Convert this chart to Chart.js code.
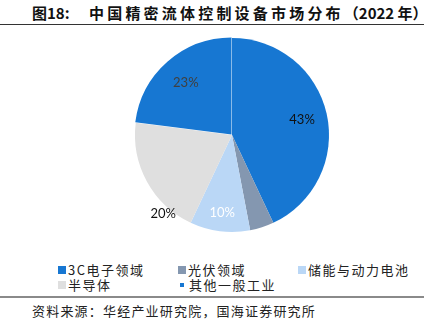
<!DOCTYPE html>
<html>
<head>
<meta charset="utf-8">
<script src="https://cdn.jsdelivr.net/npm/chart.js@4.4.0/dist/chart.umd.min.js"></script>
<style>
  body { margin: 0; background: #fff; }
  #wrap { position: relative; width: 427px; height: 330px; overflow: hidden; font-family: "Noto Sans CJK SC", sans-serif; }
  #title { position: absolute; top: 3px; left: 32px; font-size: 15px; font-weight: bold; color: #111; white-space: nowrap; line-height: 20px; }
  #title .num { display: inline-block; width: 57px; }
  #title .main { letter-spacing: 3.2px; }
  #title .yr { letter-spacing: 0; }
  #topline { position: absolute; top: 24px; left: 0; width: 424px; height: 1px; background: #333; }
  #pie { position: absolute; top: 0; left: 0; }
  #legend { position: absolute; top: 262px; left: 58px; display: grid; grid-template-columns: 120px 120px 120px; row-gap: 0; font-size: 13px; color: #222; letter-spacing: 1.5px; line-height: 15px; }
  #legend div { display: flex; align-items: center; white-space: nowrap; }
  #legend span.box { display: inline-block; width: 8px; height: 8px; margin-right: 2px; }
  #legend span.box.small { width: 4px; height: 4px; margin: 0 5px 0 2px; }
  #botline { position: absolute; top: 296px; left: 0; width: 424px; height: 2px; background: #8a8a8a; }
  #source { position: absolute; top: 302px; left: 32px; font-size: 13px; color: #222; letter-spacing: 1.2px; line-height: 18px; white-space: nowrap; }
</style>
</head>
<body>
<div id="wrap">
  <div id="title"><span class="num">图18:</span><span class="main">中国精密流体控制设备市场分布</span><span class="yr">（2022 年）</span></div>
  <div id="topline"></div>
  <canvas id="pie" width="427" height="250"></canvas>
  <div id="legend"></div>
  <div id="botline"></div>
  <div id="source">资料来源：华经产业研究院，国海证券研究所</div>
</div>
<script>
const categories = ["3C电子领域", "光伏领域", "储能与动力电池", "半导体", "其他一般工业"];
const shares = [43, 4, 10, 20, 23];
const colors = ["#1777d2", "#8497b0", "#bad7f6", "#dfdfdf", "#1777d2"];
const labelColors = ["#111", "#111", "#fff", "#111", "#404040"];

// where each percentage sits: fraction along the arc, fraction of radius
const labelAt = [[0.5, 0.74], null, [0.5, 0.81], [0.22, 1.08], [0.5, 0.72]];

const pctLabels = {
  id: "pctLabels",
  afterDatasetsDraw(chart) {
    const ctx = chart.ctx;
    const meta = chart.getDatasetMeta(0);
    ctx.save();
    ctx.font = "13px Lato, 'Noto Sans', sans-serif";
    ctx.textAlign = "center";
    ctx.textBaseline = "middle";
    meta.data.forEach((arc, i) => {
      const pos = labelAt[i];
      if (!pos) return;
      const { x, y, startAngle, endAngle, outerRadius } = arc.getProps(["x", "y", "startAngle", "endAngle", "outerRadius"]);
      const a = startAngle + (endAngle - startAngle) * pos[0];
      const r = outerRadius * pos[1];
      ctx.fillStyle = labelColors[i];
      ctx.fillText(shares[i] + "%", x + Math.cos(a) * r, y + Math.sin(a) * r);
    });
    ctx.restore();
  }
};

const chart = new Chart(document.getElementById("pie"), {
  type: "pie",
  data: {
    labels: categories,
    datasets: [{
      data: shares,
      backgroundColor: colors,
      borderWidth: 0,
      offset: [0, 0, 0, 0, 3],
      radius: 97
    }]
  },
  options: {
    responsive: false,
    animation: false,
    layout: { padding: { left: 37, right: 0, top: 20, bottom: 0 } },
    plugins: {
      legend: { display: false },
      tooltip: { enabled: false }
    }
  },
  plugins: [pctLabels]
});

// legend in a three column grid
const legend = document.getElementById("legend");
categories.forEach((name, i) => {
  const item = document.createElement("div");
  const box = document.createElement("span");
  box.className = i === 4 ? "box small" : "box";
  box.style.background = colors[i];
  item.appendChild(box);
  item.appendChild(document.createTextNode(name));
  legend.appendChild(item);
});
</script>
</body>
</html>
